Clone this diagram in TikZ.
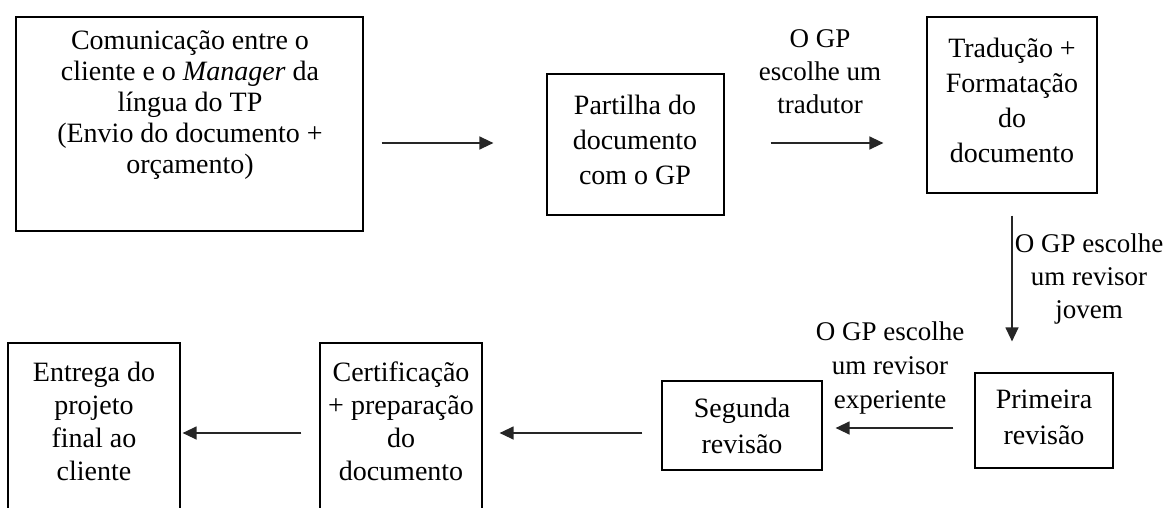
\documentclass[tikz,border=0pt]{standalone}
\usepackage{fontspec}
\setmainfont{Liberation Serif}
\usetikzlibrary{arrows.meta}
\begin{document}
\begin{tikzpicture}[x=1pt,y=-1pt,
  box/.style={draw=black,line width=1.2pt,rectangle,inner sep=0pt},
  txt/.style={inner sep=0pt,align=center,font=\fontsize{28}{#1}\selectfont},
  txt/.default=33,
  lab/.style={inner sep=0pt,align=center,font=\fontsize{27}{#1}\selectfont},
  lab/.default=33,
  arr/.style={draw=black!85,line width=1.3pt,-{Triangle[length=14pt,width=13pt]}}]
\useasboundingbox (0,0) rectangle (1164,507);
\clip (0,0) rectangle (1164,507);
% boxes
\node[box,minimum width=347pt,minimum height=214pt] (b1) at (189.5,124) {};
\node[box,minimum width=177pt,minimum height=141pt] (b2) at (635.5,144.5) {};
\node[box,minimum width=170pt,minimum height=176pt] (b3) at (1012,105) {};
\node[box,minimum width=138pt,minimum height=95pt] (b4) at (1044,420.5) {};
\node[box,minimum width=160pt,minimum height=89pt] (b5) at (742,425.5) {};
\node[box,minimum width=162pt,minimum height=200pt] (b6) at (401,443) {};
\node[box,minimum width=172pt,minimum height=200pt] (b7) at (94,443) {};
% texts
\node[txt=31] (t1) at (190,105) {Comunicação entre o\\cliente e o \textit{Manager} da\\língua do TP\\(Envio do documento +\\orçamento)};
\node[txt=35] (t2) at (635,140) {Partilha do\\documento\\com o GP};
\node[txt=35] (t3) at (1012,100) {Tradução +\\Formatação\\do\\documento};
\node[txt=36] (t4) at (1044,417) {Primeira\\revisão};
\node[txt=36] (t5) at (742,426) {Segunda\\revisão};
\node[txt=33] (t6) at (401,421) {Certificação\\+ preparação\\do\\documento};
\node[txt=33] (t7) at (94,421) {Entrega do\\projeto\\final ao\\cliente};
% labels
\node[lab=33] (l1) at (820,72) {O GP\\escolhe um\\tradutor};
\node[lab=33] (l2) at (1089,279) {O GP escolhe\\um revisor\\jovem};
\node[lab=34] (l3) at (890,368) {O GP escolhe\\um revisor\\experiente};
% arrow rows
\coordinate (r1) at (0,143);
\coordinate (r2) at (0,428);
\coordinate (r3) at (0,433);
\coordinate (c3) at (1012,0);
\draw[arr,shorten <=18pt,shorten >=53pt] (b1.east |- r1) -- (b2.west |- r1);
\draw[arr,shorten <=46pt,shorten >=43pt] (b2.east |- r1) -- (b3.west |- r1);
\draw[arr,shorten <=22pt,shorten >=31pt] (c3 |- b3.south) -- (c3 |- b4.north);
\draw[arr,shorten <=21pt,shorten >=13pt] (b4.west |- r2) -- (b5.east |- r2);
\draw[arr,shorten <=19pt,shorten >=17pt] (b5.west |- r3) -- (b6.east |- r3);
\draw[arr,shorten <=18pt,shorten >=2pt] (b6.west |- r3) -- (b7.east |- r3);
\end{tikzpicture}
\end{document}
